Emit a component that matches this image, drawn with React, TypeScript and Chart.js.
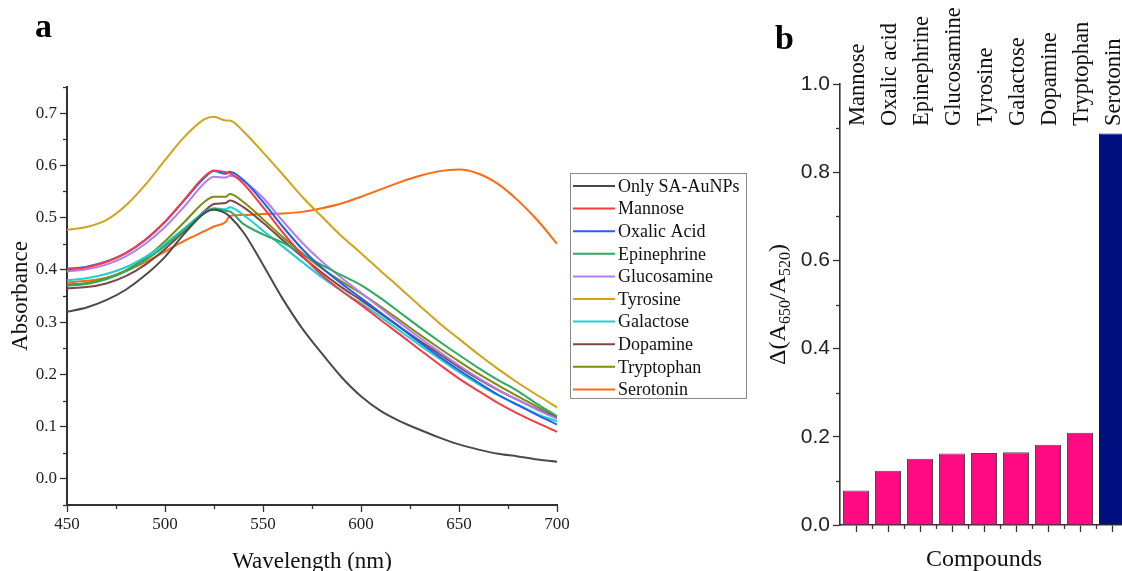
import React, { useEffect, useRef } from 'react';
import { Chart, registerables } from 'chart.js';

Chart.register(...registerables);

// ---------- Panel a data ----------
const wavelengths = [450, 460, 470, 480, 490, 500, 510, 520, 525, 531, 533, 540, 550, 560, 570, 580, 590, 600, 610, 620, 630, 640, 650, 660, 670, 680, 690, 700];

const onlySA = [0.320, 0.328, 0.342, 0.362, 0.390, 0.425, 0.470, 0.508, 0.515, 0.508, 0.502, 0.472, 0.410, 0.345, 0.288, 0.240, 0.195, 0.158, 0.130, 0.110, 0.094, 0.079, 0.066, 0.056, 0.048, 0.043, 0.037, 0.033];
const mannose = [0.400, 0.405, 0.415, 0.432, 0.458, 0.492, 0.535, 0.578, 0.590, 0.587, 0.585, 0.565, 0.520, 0.472, 0.428, 0.390, 0.360, 0.333, 0.304, 0.276, 0.247, 0.219, 0.192, 0.168, 0.145, 0.125, 0.107, 0.090];
const oxalicAcid = [0.402, 0.406, 0.416, 0.432, 0.457, 0.492, 0.534, 0.576, 0.589, 0.584, 0.588, 0.572, 0.530, 0.483, 0.440, 0.404, 0.374, 0.346, 0.318, 0.290, 0.261, 0.234, 0.208, 0.184, 0.161, 0.141, 0.122, 0.104];
const epinephrine = [0.370, 0.373, 0.382, 0.397, 0.419, 0.446, 0.477, 0.509, 0.517, 0.513, 0.512, 0.488, 0.468, 0.452, 0.430, 0.409, 0.390, 0.371, 0.346, 0.318, 0.290, 0.263, 0.237, 0.212, 0.189, 0.168, 0.143, 0.120];
const glucosamine = [0.397, 0.401, 0.410, 0.426, 0.450, 0.482, 0.522, 0.566, 0.578, 0.577, 0.580, 0.570, 0.538, 0.494, 0.452, 0.416, 0.385, 0.356, 0.327, 0.298, 0.270, 0.243, 0.217, 0.193, 0.171, 0.151, 0.132, 0.115];
const tyrosine = [0.477, 0.482, 0.495, 0.523, 0.563, 0.610, 0.655, 0.688, 0.693, 0.686, 0.686, 0.665, 0.625, 0.583, 0.540, 0.502, 0.465, 0.432, 0.398, 0.365, 0.331, 0.298, 0.268, 0.238, 0.210, 0.184, 0.160, 0.137];
const galactose = [0.380, 0.384, 0.392, 0.405, 0.425, 0.450, 0.480, 0.510, 0.518, 0.516, 0.520, 0.505, 0.475, 0.445, 0.415, 0.386, 0.360, 0.336, 0.310, 0.283, 0.256, 0.230, 0.204, 0.181, 0.160, 0.142, 0.124, 0.110];
const dopamine = [0.365, 0.367, 0.374, 0.388, 0.410, 0.440, 0.475, 0.512, 0.526, 0.528, 0.533, 0.520, 0.490, 0.457, 0.425, 0.395, 0.367, 0.342, 0.316, 0.290, 0.264, 0.239, 0.214, 0.191, 0.170, 0.151, 0.133, 0.117];
const tryptophan = [0.372, 0.375, 0.384, 0.399, 0.423, 0.455, 0.492, 0.530, 0.540, 0.540, 0.545, 0.530, 0.497, 0.463, 0.432, 0.403, 0.378, 0.355, 0.330, 0.303, 0.276, 0.250, 0.225, 0.201, 0.179, 0.158, 0.138, 0.118];
const serotonin = [0.376, 0.379, 0.385, 0.398, 0.415, 0.435, 0.456, 0.474, 0.483, 0.492, 0.503, 0.505, 0.507, 0.508, 0.511, 0.518, 0.527, 0.540, 0.554, 0.568, 0.580, 0.589, 0.592, 0.584, 0.564, 0.533, 0.495, 0.450];

const seriesNames = ['Only SA-AuNPs', 'Mannose', 'Oxalic Acid', 'Epinephrine', 'Glucosamine', 'Tyrosine', 'Galactose', 'Dopamine', 'Tryptophan', 'Serotonin'];
const seriesValues = [onlySA, mannose, oxalicAcid, epinephrine, glucosamine, tyrosine, galactose, dopamine, tryptophan, serotonin];
const seriesColors = ['#4a4a4a', '#f53c44', '#2262e6', '#2eaa62', '#b47cf0', '#d4a21a', '#1ccfd8', '#7a4848', '#7e8a12', '#ff6a12'];

const wavelengthMinorTicks = [475, 525, 575, 625, 675];
const absorbanceMinorTicks = [-0.05, 0.05, 0.15, 0.25, 0.35, 0.45, 0.55, 0.65, 0.75];

// ---------- Panel b data ----------
const compounds = ['Mannose', 'Oxalic acid', 'Epinephrine', 'Glucosamine', 'Tyrosine', 'Galactose', 'Dopamine', 'Tryptophan', 'Serotonin'];
const ratioValues = [0.078, 0.123, 0.150, 0.162, 0.163, 0.165, 0.182, 0.209, 0.888];
const barColors = ['#ff0a82', '#ff0a82', '#ff0a82', '#ff0a82', '#ff0a82', '#ff0a82', '#ff0a82', '#ff0a82', '#000f80'];
const ratioMinorTicks = [0.1, 0.3, 0.5, 0.7, 0.9];
const compoundMinorTicks = [0.5, 1.5, 2.5, 3.5, 4.5, 5.5, 6.5, 7.5, 8.5];

const SERIF = '"Liberation Serif", "Times New Roman", serif';
const SANS = '"Liberation Sans", Arial, sans-serif';
const AXIS = '#333333';

const minorTicksPlugin = {
  id: 'minorTicks',
  afterDraw(chart: any, _args: any, opts: any) {
    const ctx = chart.ctx;
    const xs = chart.scales.x;
    const ys = chart.scales.y;
    ctx.save();
    ctx.strokeStyle = AXIS;
    ctx.lineWidth = 1.3;
    (opts.x || []).forEach((v: number) => {
      const px = Math.round(xs.getPixelForValue(v)) + 0.5;
      ctx.beginPath();
      ctx.moveTo(px, xs.top);
      ctx.lineTo(px, xs.top + opts.len);
      ctx.stroke();
    });
    (opts.y || []).forEach((v: number) => {
      const py = Math.round(ys.getPixelForValue(v)) + 0.5;
      ctx.beginPath();
      ctx.moveTo(ys.right, py);
      ctx.lineTo(ys.right - opts.len, py);
      ctx.stroke();
    });
    ctx.restore();
  },
};

const letterPlugin = {
  id: 'panelLetter',
  afterDraw(chart: any, _args: any, opts: any) {
    const ctx = chart.ctx;
    ctx.save();
    ctx.font = `bold 34px ${SERIF}`;
    ctx.fillStyle = '#000';
    ctx.textBaseline = 'alphabetic';
    ctx.textAlign = 'left';
    ctx.fillText(opts.text, opts.x, opts.y);
    ctx.restore();
  },
};

const boxLegendPlugin = {
  id: 'boxLegend',
  afterDraw(chart: any, _args: any, opts: any) {
    const ctx = chart.ctx;
    ctx.save();
    ctx.strokeStyle = '#8a8a8a';
    ctx.lineWidth = 1;
    ctx.strokeRect(opts.x + 0.5, opts.y + 0.5, opts.w, opts.h);
    ctx.font = `18px ${SERIF}`;
    ctx.textBaseline = 'middle';
    ctx.textAlign = 'left';
    chart.data.datasets.forEach((ds: any, i: number) => {
      const cy = opts.y + 13 + i * opts.row;
      ctx.strokeStyle = ds.borderColor;
      ctx.lineWidth = 2;
      ctx.beginPath();
      ctx.moveTo(opts.x + 3, cy);
      ctx.lineTo(opts.x + 45, cy);
      ctx.stroke();
      ctx.fillStyle = '#111';
      ctx.fillText(ds.label, opts.x + 48, cy + 1);
    });
    ctx.restore();
  },
};

const topLabelsPlugin = {
  id: 'topLabels',
  afterDraw(chart: any, _args: any, opts: any) {
    const ctx = chart.ctx;
    const xs = chart.scales.x;
    ctx.save();
    ctx.font = `22.5px ${SERIF}`;
    ctx.fillStyle = '#111';
    ctx.textAlign = 'left';
    ctx.textBaseline = 'alphabetic';
    chart.data.labels.forEach((lab: string, i: number) => {
      const px = xs.getPixelForValue(i);
      ctx.save();
      ctx.translate(px + 8, opts.bottom);
      ctx.rotate(-Math.PI / 2);
      ctx.fillText(lab, 0, 0);
      ctx.restore();
    });
    ctx.restore();
  },
};

const ratioTitlePlugin = {
  id: 'ratioTitle',
  afterDraw(chart: any, _args: any, opts: any) {
    const ctx = chart.ctx;
    const ys = chart.scales.y;
    const parts: [string, boolean][] = [['Δ(A', false], ['650', true], ['/A', false], ['520', true], [')', false]];
    const big = `24px ${SERIF}`;
    const small = `16px ${SERIF}`;
    ctx.save();
    let total = 0;
    parts.forEach(([t, sub]) => {
      ctx.font = sub ? small : big;
      total += ctx.measureText(t).width;
    });
    const cy = (ys.top + ys.bottom) / 2;
    ctx.translate(opts.x, cy);
    ctx.rotate(-Math.PI / 2);
    ctx.fillStyle = '#111';
    ctx.textBaseline = 'alphabetic';
    ctx.textAlign = 'left';
    let x = -total / 2;
    parts.forEach(([t, sub]) => {
      ctx.font = sub ? small : big;
      ctx.fillText(t, x, sub ? 5 : 0);
      x += ctx.measureText(t).width;
    });
    ctx.restore();
  },
};

function SpectraChart() {
  const ref = useRef<HTMLCanvasElement | null>(null);
  useEffect(() => {
    if (!ref.current) return;
    const chart = new Chart(ref.current, {
      type: 'line',
      data: {
        labels: wavelengths,
        datasets: seriesNames.map((name, i) => ({
          label: name,
          data: wavelengths.map((w, j) => ({ x: w, y: seriesValues[i][j] })),
          borderColor: seriesColors[i],
          backgroundColor: seriesColors[i],
          borderWidth: 2,
          pointRadius: 0,
          cubicInterpolationMode: 'monotone' as const,
          fill: false,
        })),
      },
      plugins: [minorTicksPlugin, letterPlugin, boxLegendPlugin],
      options: {
        responsive: false,
        animation: false,
        devicePixelRatio: 1,
        layout: { padding: { left: 0, top: 87, right: 203, bottom: 0 } },
        plugins: {
          legend: { display: false },
          tooltip: { enabled: false },
          minorTicks: { x: wavelengthMinorTicks, y: absorbanceMinorTicks, len: 4 },
          panelLetter: { text: 'a', x: 35, y: 37 },
          boxLegend: { x: 570, y: 173, w: 176, h: 225, row: 22.6 },
        } as any,
        scales: {
          x: {
            type: 'linear',
            min: 450,
            max: 700,
            afterFit: (s: any) => { s.height = 95; },
            ticks: { stepSize: 50, padding: 2, color: '#222', font: { family: SERIF, size: 17 } },
            grid: { drawOnChartArea: false, drawTicks: true, tickLength: 7, tickColor: AXIS, tickWidth: 1.3 },
            border: { display: true, color: AXIS, width: 2 },
            title: { display: true, text: 'Wavelength (nm)', color: '#111', font: { family: SERIF, size: 23 }, padding: { top: 0, bottom: 24 } },
          },
          y: {
            type: 'linear',
            min: -0.05,
            max: 0.75,
            afterFit: (s: any) => { s.width = 67; },
            ticks: {
              stepSize: 0.05,
              padding: 3,
              color: '#222',
              font: { family: SERIF, size: 17 },
              callback: (v: any) => {
                const n = Number(v);
                return Math.abs(n * 10 - Math.round(n * 10)) < 1e-6 ? (Math.round(n * 10) / 10).toFixed(1) : null;
              },
            },
            grid: { drawOnChartArea: false, drawTicks: true, tickLength: 7, tickColor: AXIS, tickWidth: 1.3 },
            border: { display: true, color: AXIS, width: 2 },
            title: { display: true, text: 'Absorbance', color: '#111', font: { family: SERIF, size: 23 }, padding: { top: 7, bottom: 0 } },
          },
        },
      } as any,
    });
    return () => chart.destroy();
  }, []);
  return <canvas ref={ref} width={760} height={600} style={{ position: 'absolute', left: 0, top: 0 }} />;
}

function RatioChart() {
  const ref = useRef<HTMLCanvasElement | null>(null);
  useEffect(() => {
    if (!ref.current) return;
    const chart = new Chart(ref.current, {
      type: 'bar',
      data: {
        labels: compounds,
        datasets: [
          {
            label: 'Δ(A650/A520)',
            data: ratioValues,
            backgroundColor: barColors,
            borderColor: barColors.map((c, i) => (i === barColors.length - 1 ? c : '#4a4a4a')),
            borderWidth: 1,
            categoryPercentage: 1,
            barPercentage: 0.8125,
          },
        ],
      },
      plugins: [minorTicksPlugin, letterPlugin, topLabelsPlugin, ratioTitlePlugin],
      options: {
        responsive: false,
        animation: false,
        devicePixelRatio: 1,
        layout: { padding: { left: 0, top: 84, right: 12, bottom: 0 } },
        plugins: {
          legend: { display: false },
          tooltip: { enabled: false },
          minorTicks: { x: compoundMinorTicks, y: ratioMinorTicks, len: 4 },
          panelLetter: { text: 'b', x: 15, y: 49 },
          topLabels: { bottom: 126 },
          ratioTitle: { x: 25 },
        } as any,
        scales: {
          x: {
            type: 'category',
            offset: true,
            afterFit: (s: any) => { s.height = 75; },
            ticks: { callback: () => '', font: { size: 1 }, padding: 0 },
            grid: { offset: false, drawOnChartArea: false, drawTicks: true, tickLength: 7, tickColor: AXIS, tickWidth: 1.3 },
            border: { display: true, color: AXIS, width: 1.6 },
            title: { display: true, text: 'Compounds', color: '#111', font: { family: SERIF, size: 24 }, padding: { top: 0, bottom: 26 } },
          },
          y: {
            type: 'linear',
            min: 0,
            max: 1.0,
            afterFit: (s: any) => { s.width = 80; },
            ticks: { stepSize: 0.2, padding: 3, color: '#222', font: { family: SANS, size: 21 }, callback: (v: any) => Number(v).toFixed(1) },
            grid: { drawOnChartArea: false, drawTicks: true, tickLength: 7, tickColor: AXIS, tickWidth: 1.3 },
            border: { display: true, color: AXIS, width: 1.6 },
          },
        },
      } as any,
    });
    return () => chart.destroy();
  }, []);
  return <canvas ref={ref} width={380} height={600} style={{ position: 'absolute', left: 760, top: 0 }} />;
}

export default function App() {
  return (
    <div style={{ position: 'fixed', left: 0, top: 0, width: 1122, height: 571, overflow: 'hidden', background: '#fff' }}>
      <SpectraChart />
      <RatioChart />
    </div>
  );
}
